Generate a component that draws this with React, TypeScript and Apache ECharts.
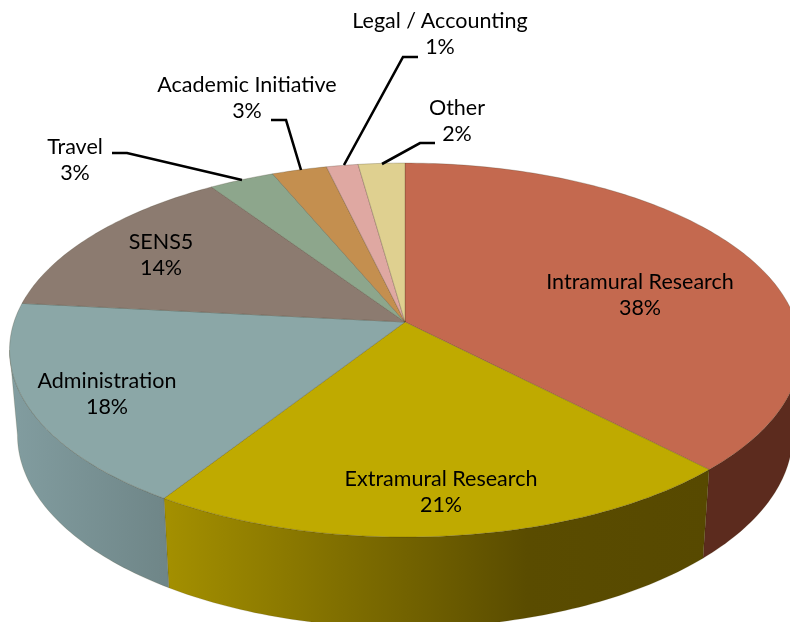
import React, { useEffect, useRef } from "react";
import * as echarts from "echarts";

const categories = ["Intramural Research", "Extramural Research", "Administration", "SENS5", "Travel", "Academic Initiative", "Legal / Accounting", "Other"];
const values = [37.8, 21.25, 17.6, 13.95, 3.1, 2.6, 1.5, 2.2];
const percentLabels = ["38%", "21%", "18%", "14%", "3%", "3%", "1%", "2%"];
const topColors = ["#C4694F", "#BFAA00", "#8BA7A7", "#8C7B70", "#8DA68C", "#C48F4F", "#DFA8A2", "#DFD090"];
const wallStops: (string[] | null)[] = [
  ["#5C2B1E", "#5C2B1E"],
  ["#A49000", "#7F6E00", "#5A4C00", "#574900"],
  ["#829DA0", "#6F8688"],
  null, null, null, null, null,
];
const labelCentres = [[640, 294], [441, 491], [107, 393], [161, 254], [75, 159], [247, 97], [440, 33], [457, 120]];
const leaders: (number[][] | null)[] = [
  null, null, null, null,
  [[112, 153], [127, 153], [242, 180]],
  [[271, 120], [286, 120], [301, 170]],
  [[418, 57], [403, 57], [344, 165]],
  [[435, 143], [420, 143], [382, 164]],
];

const CX = 405, CY = 322, R = 391, S = 182.8, K = 0.15;
const FONT = '21.5px Lato, "Noto Sans", sans-serif';

const total = values.reduce((a, b) => a + b, 0);
const project = (theta: number) => {
  const u = Math.sin(theta), v = -Math.cos(theta), w = 1 - K * v;
  return [CX + (R * u) / w, CY + (S * v) / w];
};
const lower = (p: number[]) => [CX + 0.98 * (p[0] - CX), p[1] + 85 + (p[1] - 350) * 0.03];
const sample = (a: number, b: number) => {
  const n = Math.max(2, Math.ceil(((b - a) * 180) / Math.PI));
  const out: number[][] = [];
  for (let i = 0; i <= n; i++) out.push(project(a + ((b - a) * i) / n));
  return out;
};
const FRONT_A = Math.acos(-K), FRONT_B = 2 * Math.PI - FRONT_A;

const renderItem = (params: any, api: any) => {
  const i = params.dataIndex;
  let before = 0;
  for (let j = 0; j < i; j++) before += values[j];
  const a = (before / total) * 2 * Math.PI;
  const b = a + (api.value(0) / total) * 2 * Math.PI;
  const children: any[] = [];
  const fa = Math.max(a, FRONT_A), fb = Math.min(b, FRONT_B);
  const stops = wallStops[i];
  if (stops && fb > fa) {
    const top = sample(fa, fb);
    const bottom = top.map(lower).reverse();
    const xs = top.map((p) => p[0]);
    children.push({
      type: "polygon",
      shape: { points: [...top, ...bottom] },
      style: {
        fill: {
          type: "linear", global: true, x: Math.min(...xs), y: 0, x2: Math.max(...xs), y2: 0,
          colorStops: stops.map((color, k) => ({ offset: k / (stops.length - 1), color })),
        },
        stroke: "rgba(60,50,0,0.25)", lineWidth: 0.6,
      },
    });
  }
  children.push({
    type: "polygon",
    shape: { points: [[CX, CY], ...sample(a, b)] },
    style: { fill: topColors[i], stroke: "rgba(60,50,30,0.3)", lineWidth: 0.8 },
  });
  return { type: "group", children };
};

const labelItem = (params: any) => {
  const i = params.dataIndex;
  const children: any[] = [];
  const l = leaders[i];
  if (l) children.push({ type: "polyline", shape: { points: l }, style: { stroke: "#000", lineWidth: 2.6, fill: "none" } });
  children.push({
    type: "text",
    style: {
      text: categories[i] + "\n" + percentLabels[i],
      x: labelCentres[i][0], y: labelCentres[i][1],
      align: "center", verticalAlign: "middle", textAlign: "center", textVerticalAlign: "middle",
      font: FONT, fill: "#000", lineHeight: 26,
    },
  });
  return { type: "group", children };
};

export default function App() {
  const ref = useRef<HTMLDivElement>(null);
  useEffect(() => {
    document.body.style.margin = "0";
    const chart = echarts.init(ref.current!, null, { renderer: "svg" });
    chart.setOption({
      animation: false,
      backgroundColor: "#fff",
      series: [
        { type: "custom", coordinateSystem: "none", renderItem, data: values.map((v) => [v]), silent: true, clip: false },
        { type: "custom", coordinateSystem: "none", renderItem: labelItem, data: values.map((v) => [v]), silent: true, clip: false },
      ],
    });
    return () => chart.dispose();
  }, []);
  return <div ref={ref} style={{ width: 790, height: 622, overflow: "hidden", filter: "blur(0.4px)" }} />;
}
